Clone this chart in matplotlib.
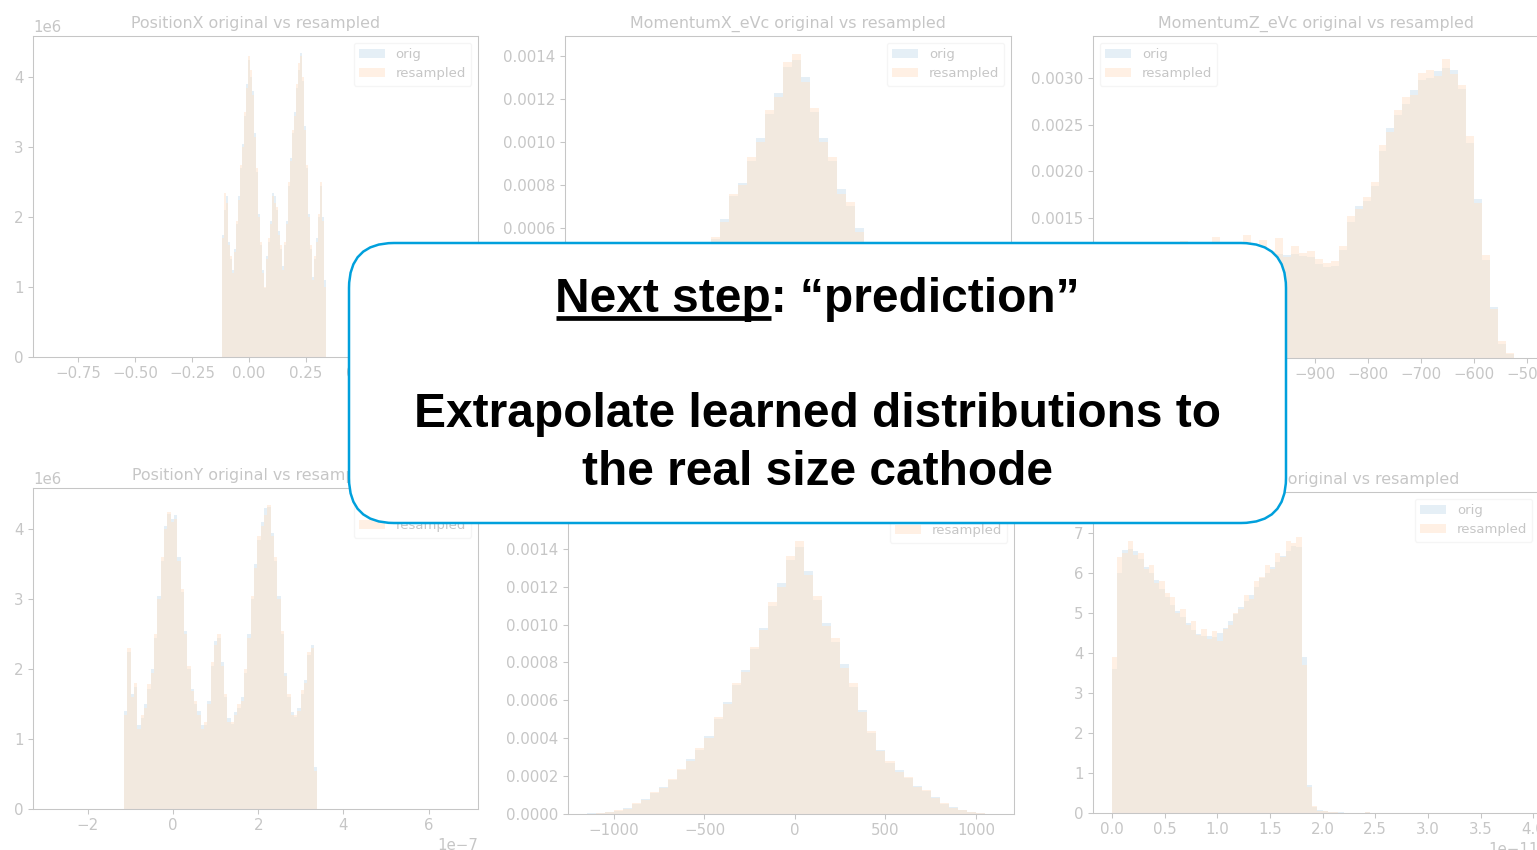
import numpy as np
import matplotlib
matplotlib.use("Agg")
import matplotlib.pyplot as plt
from matplotlib.patches import Rectangle, FancyBboxPatch
from matplotlib.lines import Line2D
from matplotlib.transforms import IdentityTransform
from matplotlib.ticker import MultipleLocator

# ---------------------------------------------------------------- data
# PositionX (x in micrometres -> metres, density in 1e6 / m)
pos_x_range = (-0.118, 0.338)
pos_x_orig = [1.75, 2.1, 2.3, 1.65, 1.4, 1.25, 1.55, 1.9, 2.3, 2.7, 3.05, 3.45, 3.9,
              4.25, 4.0, 3.8, 3.2, 2.65, 2.05, 1.6, 1.25, 0.98, 1.45, 1.65, 1.95, 2.35,
              2.3, 2.1, 1.8, 1.55, 1.3, 1.6, 1.95, 2.45, 2.85, 3.2, 3.5, 3.85, 4.1, 4.35,
              3.95, 3.3, 2.7, 2.05, 1.55, 1.15, 1.4, 1.7, 2.0, 2.45, 2.0, 1.1]
pos_x_resampled = [1.7, 2.35, 2.2, 1.6, 1.45, 1.2, 1.5, 1.95, 2.25, 2.75, 3.0, 3.5, 3.85,
                   4.3, 4.1, 3.75, 3.15, 2.7, 2.0, 1.65, 1.2, 1.0, 1.4, 1.7, 1.9, 2.3,
                   2.2, 2.15, 1.75, 1.6, 1.25, 1.65, 1.9, 2.5, 2.8, 3.25, 3.45, 3.9, 4.2,
                   4.3, 4.0, 3.25, 2.75, 2.0, 1.6, 1.1, 1.45, 1.65, 2.05, 2.5, 1.95, 1.0]

# PositionY (x in 1e-7 m, density in 1e6 / m)
pos_y_range = (-1.15, 3.39)
pos_y_orig = [1.4, 2.25, 1.65, 1.75, 1.2, 1.3, 1.5, 1.72, 2.0, 2.45, 3.05, 3.55, 4.05,
              4.22, 4.15, 4.2, 3.6, 3.1, 2.55, 2.0, 1.72, 1.5, 1.4, 1.2, 1.2, 1.55, 2.05,
              2.4, 2.45, 2.1, 1.6, 1.3, 1.22, 1.38, 1.45, 1.6, 1.95, 2.5, 3.0, 3.5, 3.85,
              4.1, 4.3, 4.32, 3.95, 3.55, 3.05, 2.5, 1.95, 1.6, 1.38, 1.32, 1.45, 1.65,
              1.85, 2.2, 2.35, 0.6]
pos_y_resampled = [1.35, 2.3, 1.6, 1.8, 1.15, 1.35, 1.45, 1.78, 1.95, 2.5, 3.0, 3.6, 4.0,
                   4.25, 4.1, 4.15, 3.55, 3.15, 2.5, 2.05, 1.68, 1.55, 1.35, 1.15, 1.25,
                   1.5, 2.1, 2.35, 2.5, 2.05, 1.65, 1.25, 1.25, 1.35, 1.5, 1.55, 2.0, 2.45,
                   3.05, 3.45, 3.9, 4.05, 4.2, 4.35, 3.9, 3.6, 3.0, 2.55, 1.9, 1.65, 1.35,
                   1.35, 1.4, 1.7, 1.8, 2.25, 2.3, 0.55]

# MomentumX / MomentumY (eV/c, density in 1e-4)
mom_xy_range = (-1150, 1100)
mom_x_orig = [0.03, 0.05, 0.1, 0.2, 0.32, 0.55, 0.8, 1.1, 1.5, 1.9, 2.4, 3.0, 3.7, 4.5,
              5.5, 6.4, 7.5, 8.1, 9.1, 10.2, 11.3, 12.3, 13.5, 13.8, 13.0, 11.4, 10.2,
              9.1, 7.8, 7.0, 6.0, 5.0, 4.1, 3.3, 2.6, 2.0, 1.5, 1.1, 0.8, 0.55, 0.35,
              0.2, 0.1, 0.05, 0.02]
mom_x_resampled = [0.02, 0.06, 0.12, 0.18, 0.35, 0.5, 0.85, 1.05, 1.55, 1.85, 2.45, 2.9,
                   3.8, 4.4, 5.6, 6.3, 7.6, 8.0, 9.3, 10.0, 11.5, 12.1, 13.7, 14.1, 12.8,
                   11.6, 10.0, 9.3, 7.6, 7.2, 5.8, 5.1, 4.0, 3.4, 2.5, 2.05, 1.45, 1.15,
                   0.75, 0.6, 0.3, 0.22, 0.08, 0.06, 0.02]
mom_y_orig = [0.03, 0.06, 0.1, 0.18, 0.3, 0.55, 0.8, 1.1, 1.4, 1.8, 2.3, 2.9, 3.4, 4.1,
              5.0, 5.9, 6.8, 7.6, 8.7, 9.8, 11.0, 12.2, 13.4, 14.1, 12.8, 11.3, 10.1,
              9.1, 7.9, 6.7, 5.5, 4.3, 3.4, 2.7, 2.3, 1.9, 1.5, 1.2, 0.9, 0.55, 0.35,
              0.2, 0.1, 0.04, 0.02]
mom_y_resampled = [0.02, 0.07, 0.09, 0.2, 0.28, 0.6, 0.75, 1.15, 1.35, 1.85, 2.4, 2.8,
                   3.5, 4.0, 5.1, 5.8, 6.9, 7.5, 8.8, 9.7, 11.2, 12.0, 13.6, 14.4, 12.6,
                   11.5, 9.9, 9.3, 7.7, 6.9, 5.4, 4.4, 3.3, 2.8, 2.2, 1.95, 1.45, 1.25,
                   0.85, 0.6, 0.3, 0.22, 0.09, 0.05, 0.01]

# MomentumZ (eV/c, density in 1e-3)
mom_z_range = (-1290, -525)
mom_z_orig = [0.95, 1.05, 1.08, 1.10, 1.09, 1.12, 1.11, 1.13, 1.12, 1.14, 1.13, 1.15,
              1.14, 1.16, 1.15, 1.14, 1.16, 1.14, 1.13, 1.12, 1.13, 1.11, 1.10, 1.11,
              1.09, 1.08, 1.01, 0.97, 0.99, 1.16, 1.46, 1.63, 1.68, 1.84, 2.22, 2.46,
              2.60, 2.72, 2.87, 2.98, 3.00, 3.07, 3.11, 3.08, 2.88, 2.30, 1.70, 1.05,
              0.55, 0.15, 0.04]
mom_z_resampled = [0.92, 1.10, 1.05, 1.18, 1.07, 1.20, 1.09, 1.22, 1.10, 1.25, 1.12,
                   1.21, 1.16, 1.30, 1.13, 1.24, 1.18, 1.32, 1.12, 1.26, 1.15, 1.28,
                   1.08, 1.20, 1.12, 1.15, 1.06, 1.02, 1.04, 1.20, 1.52, 1.60, 1.72,
                   1.88, 2.28, 2.42, 2.66, 2.80, 2.82, 3.05, 3.08, 3.02, 3.20, 3.04,
                   2.92, 2.38, 1.66, 1.10, 0.52, 0.18, 0.05]

# Emission time (x in 1e-11 s, density in 1e10 / s)
time_range = (0.0, 2.6)
time_orig = [3.6, 6.0, 6.57, 6.6, 6.55, 6.35, 6.15, 6.0, 5.82, 5.6, 5.4, 5.2, 5.05, 4.9,
             4.75, 4.58, 4.48, 4.42, 4.42, 4.4, 4.5, 4.62, 4.8, 4.97, 5.15, 5.3, 5.45,
             5.65, 5.88, 6.0, 6.15, 6.28, 6.42, 6.55, 6.68, 6.65, 3.9, 0.7, 0.15, 0.07,
             0.04, 0.03, 0.02, 0.015, 0.01, 0.01, 0.008, 0.006, 0.02, 0.01, 0.004, 0.003]
time_resampled = [3.9, 6.4, 6.5, 6.8, 6.45, 6.5, 6.1, 6.2, 5.75, 5.8, 5.5, 5.4, 5.0, 5.1,
                  4.7, 4.8, 4.45, 4.6, 4.35, 4.55, 4.3, 4.6, 4.7, 5.0, 5.1, 5.45, 5.35,
                  5.8, 5.9, 6.2, 6.1, 6.5, 6.4, 6.8, 6.75, 6.9, 3.7, 0.65, 0.17, 0.06,
                  0.05, 0.02, 0.025, 0.01, 0.012, 0.008, 0.01, 0.004, 0.03, 0.008, 0.003,
                  0.002]

panels = [
    # title, x range, x scale, y scale, orig, resampled, xlim, ylim, legend loc
    ("PositionX original vs resampled", pos_x_range, 1e-6, 1e6,
     pos_x_orig, pos_x_resampled, (-0.947e-6, 1.004e-6), (0, 4.586e6), "upper right"),
    ("MomentumX_eVc original vs resampled", mom_xy_range, 1.0, 1e-4,
     mom_x_orig, mom_x_resampled, (-1254, 1210), (0, 0.001493), "upper right"),
    ("MomentumZ_eVc original vs resampled", mom_z_range, 1.0, 1e-3,
     mom_z_orig, mom_z_resampled, (-1319, -477), (0, 0.003448), "upper left"),
    ("PositionY original vs resampled", pos_y_range, 1e-7, 1e6,
     pos_y_orig, pos_y_resampled, (-3.29e-7, 7.16e-7), (0, 4.586e6), "upper right"),
    ("MomentumY_eVc original vs resampled", mom_xy_range, 1.0, 1e-4,
     mom_y_orig, mom_y_resampled, (-1254, 1210), (0, 0.001694), "upper right"),
    ("EmissionTime original vs resampled", time_range, 1e-11, 1e10,
     time_orig, time_resampled, (-0.18e-11, 4.055e-11), (0, 8.025e10), "upper right"),
]

# axes rectangles in pixels: left, top, right, bottom
axes_px = [
    (33, 36, 478, 357),
    (565, 36, 1011, 357),
    (1093, 36, 1539, 358),
    (33, 488, 478, 809),
    (568, 493, 1014, 814),
    (1093, 492, 1539, 813),
]

# ---------------------------------------------------------------- style
W, H = 1537, 850
plt.rcParams.update({
    "font.family": "DejaVu Sans",
    "font.size": 9.5,
    "axes.titlesize": 11.4,
    "legend.fontsize": 9.5,
    "xtick.labelsize": 10.8,
    "ytick.labelsize": 10.8,
    "axes.linewidth": 0.76,
    "xtick.major.size": 3.3,
    "ytick.major.size": 3.3,
    "xtick.major.width": 0.76,
    "ytick.major.width": 0.76,
    "axes.titlepad": 5.7,
})

fig = plt.figure(figsize=(W / 100, H / 100), dpi=100)

for (title, xr, xs, ys, orig, res, xlim, ylim, loc), (l, t, r, b) in zip(panels, axes_px):
    ax = fig.add_axes([l / W, 1 - b / H, (r - l) / W, (b - t) / H])
    n = len(orig)
    edges = np.linspace(xr[0], xr[1], n + 1) * xs
    ax.stairs(np.array(orig) * ys, edges, fill=True, color="C0", alpha=0.5,
              label="orig")
    ax.stairs(np.array(res) * ys, edges, fill=True, color="C1", alpha=0.5,
              label="resampled")
    ax.set_xlim(*xlim)
    ax.set_ylim(*ylim)
    ax.set_title(title)
    ax.legend(loc=loc)
    ax.xaxis.get_offset_text().set_fontsize(10.8)
    ax.yaxis.get_offset_text().set_fontsize(10.8)
    if "MomentumZ" in title:
        ax.xaxis.set_major_locator(MultipleLocator(100))

# wash the panels out behind the message box
fig.add_artist(Rectangle((0, 0), 1, 1, transform=fig.transFigure,
                         facecolor="white", edgecolor="none", alpha=0.78, zorder=10))

# message box
box = FancyBboxPatch((349, H - 523), 937, 280,
                     boxstyle="round,pad=0,rounding_size=45",
                     transform=IdentityTransform(), facecolor="white",
                     edgecolor="#00A0DC", linewidth=1.8, zorder=11)
fig.add_artist(box)

txt_kw = dict(fontsize=34.5, fontweight="bold", family="Liberation Sans",
              ha="center", va="baseline", color="black", zorder=12)
cx = 817 / W
head = fig.text(cx, 1 - 312 / H, "Next step: \u201cprediction\u201d", **txt_kw)
fig.text(cx, 1 - 427 / H, "Extrapolate learned distributions to", **txt_kw)
fig.text(cx, 1 - 485 / H, "the real size cathode", **txt_kw)

# underline the "Next step" part of the heading
fig.canvas.draw()
renderer = fig.canvas.get_renderer()
full_bb = head.get_window_extent(renderer)
probe = fig.text(0, 0, "Next step", **{k: v for k, v in txt_kw.items() if k not in ("ha",)})
probe_w = probe.get_window_extent(renderer).width
probe.remove()
uy = H - 318
fig.add_artist(Line2D([full_bb.x0 + 1, full_bb.x0 + probe_w], [uy, uy],
                      transform=IdentityTransform(), color="black",
                      linewidth=3.4, solid_capstyle="butt", zorder=12))

fig.savefig("out.png", dpi=100)
